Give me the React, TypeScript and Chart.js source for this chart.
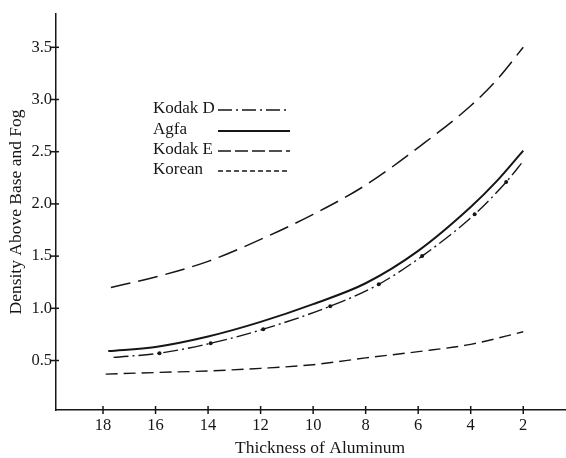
import React, { useEffect, useRef } from "react";
import { Chart, registerables } from "chart.js";
Chart.register(...registerables);

// ---- data ----
const xTicks = [18, 16, 14, 12, 10, 8, 6, 4, 2];
const yTicks = [0.5, 1.0, 1.5, 2.0, 2.5, 3.0, 3.5];

const kodakDX = [17.6, 15.85, 13.9, 11.9, 9.35, 7.5, 5.85, 3.85, 2.65, 2.0];
const kodakDY = [0.53, 0.57, 0.665, 0.8, 1.02, 1.23, 1.5, 1.9, 2.21, 2.41];
const kodakDDots = [0, 1, 1, 1, 1, 1, 1, 1, 1, 0];

const agfaX = [17.8, 16, 14, 12, 10, 8, 6, 4, 3, 2];
const agfaY = [0.59, 0.63, 0.73, 0.87, 1.04, 1.24, 1.55, 1.97, 2.22, 2.51];

const kodakEX = [17.7, 16, 14, 12, 10, 8, 6, 4, 3, 2];
const kodakEY = [1.2, 1.3, 1.45, 1.66, 1.9, 2.18, 2.54, 2.94, 3.19, 3.5];

const koreanX = [17.9, 16, 14, 12, 10, 8, 6, 4, 2];
const koreanY = [0.37, 0.385, 0.4, 0.425, 0.46, 0.525, 0.585, 0.655, 0.775];

const seriesNames = ["Kodak D", "Agfa", "Kodak E", "Korean"];
const xTitle = "Thickness of Aluminum";
const yTitle = "Density Above Base and Fog";

const INK = "#161616";
const FONT = "'Liberation Serif', 'DejaVu Serif', serif";

const zip = (xs: number[], ys: number[]) => xs.map((x, i) => ({ x, y: ys[i] }));

const styles = [
  { dash: [15, 4, 2, 4], width: 1.4, legendDash: [14, 4, 2, 4] },
  { dash: [], width: 2, legendDash: [] },
  { dash: [20, 8], width: 1.5, legendDash: [13, 4] },
  { dash: [12, 6], width: 1.4, legendDash: [5, 3] },
];

const decorPlugin = {
  id: "decor",
  afterDraw(chart: any) {
    const { ctx, chartArea, scales } = chart;
    const xs = scales.x;
    const ys = scales.y;
    ctx.save();
    ctx.strokeStyle = INK;
    ctx.lineWidth = 1.5;
    // tick marks crossing the axes
    yTicks.forEach((v) => {
      const py = ys.getPixelForValue(v);
      ctx.beginPath();
      ctx.moveTo(chartArea.left - 6, py);
      ctx.lineTo(chartArea.left + 3, py);
      ctx.stroke();
    });
    xTicks.forEach((v) => {
      const px = xs.getPixelForValue(v);
      ctx.beginPath();
      ctx.moveTo(px, chartArea.bottom - 4);
      ctx.lineTo(px, chartArea.bottom + 4);
      ctx.stroke();
    });
    // x axis title (placed as in the reference, slightly right of centre)
    ctx.fillStyle = INK;
    ctx.font = "17.5px " + FONT;
    ctx.textAlign = "left";
    ctx.textBaseline = "alphabetic";
    ctx.fillText(xTitle, 235, 453);
    // legend
    const ds = chart.data.datasets;
    const textX = 153;
    const lineX0 = 218;
    const lineX1 = 290;
    const rowY = [109, 130, 150, 170];
    ctx.font = "17px " + FONT;
    ctx.textBaseline = "middle";
    ds.forEach((d: any, i: number) => {
      const y = rowY[i];
      ctx.fillText(d.label, textX, y);
      ctx.beginPath();
      ctx.setLineDash(styles[i].legendDash);
      ctx.lineWidth = styles[i].width;
      ctx.moveTo(lineX0, y + 1);
      ctx.lineTo(lineX1, y + 1);
      ctx.stroke();
    });
    ctx.restore();
  },
};

export default function App() {
  const ref = useRef<HTMLCanvasElement | null>(null);

  useEffect(() => {
    if (!ref.current) return;
    const datasets = [
      zip(kodakDX, kodakDY),
      zip(agfaX, agfaY),
      zip(kodakEX, kodakEY),
      zip(koreanX, koreanY),
    ].map((data, i) => ({
      label: seriesNames[i],
      data,
      borderColor: INK,
      backgroundColor: INK,
      borderWidth: styles[i].width,
      borderDash: styles[i].dash,
      cubicInterpolationMode: "monotone" as const,
      pointRadius: i === 0 ? kodakDDots.map((d) => (d ? 2 : 0)) : 0,
      pointBorderWidth: 0,
      pointHoverRadius: 0,
      fill: false,
    }));

    const chart = new Chart(ref.current, {
      type: "line",
      data: { datasets },
      plugins: [decorPlugin],
      options: {
        animation: false,
        responsive: false,
        devicePixelRatio: 1,
        layout: { padding: { top: 10, right: 1, left: 0, bottom: 0 } },
        plugins: { legend: { display: false }, tooltip: { enabled: false } },
        scales: {
          x: {
            type: "linear",
            reverse: true,
            min: 0.41,
            max: 19.79,
            afterBuildTicks: (s: any) => {
              s.ticks = xTicks.map((v) => ({ value: v }));
            },
            afterFit: (s: any) => {
              s.height = 48;
            },
            grid: { drawOnChartArea: false, drawTicks: false },
            border: { display: true, color: INK, width: 1.5 },
            ticks: {
              color: INK,
              padding: 6,
              maxRotation: 0,
              autoSkip: false,
              font: { family: FONT, size: 16.5 },
              callback: (v: any) => String(v),
            },
            title: { display: false, text: xTitle },
          },
          y: {
            type: "linear",
            min: 0.026,
            max: 3.82,
            afterBuildTicks: (s: any) => {
              s.ticks = yTicks.map((v) => ({ value: v }));
            },
            afterFit: (s: any) => {
              s.width = 56;
            },
            grid: { drawOnChartArea: false, drawTicks: false },
            border: { display: true, color: INK, width: 1.5 },
            ticks: {
              color: INK,
              padding: 4,
              autoSkip: false,
              font: { family: FONT, size: 16.5 },
              callback: (v: any) => Number(v).toFixed(1),
            },
            title: {
              display: true,
              text: yTitle,
              color: INK,
              font: { family: FONT, size: 17.5 },
              padding: { top: 6, bottom: 0 },
            },
          },
        },
      },
    });
    return () => chart.destroy();
  }, []);

  return (
    <div style={{ position: "fixed", left: 0, top: 0, width: 566, height: 458, background: "#fff" }}>
      <canvas ref={ref} width={566} height={458} style={{ display: "block" }} />
    </div>
  );
}
